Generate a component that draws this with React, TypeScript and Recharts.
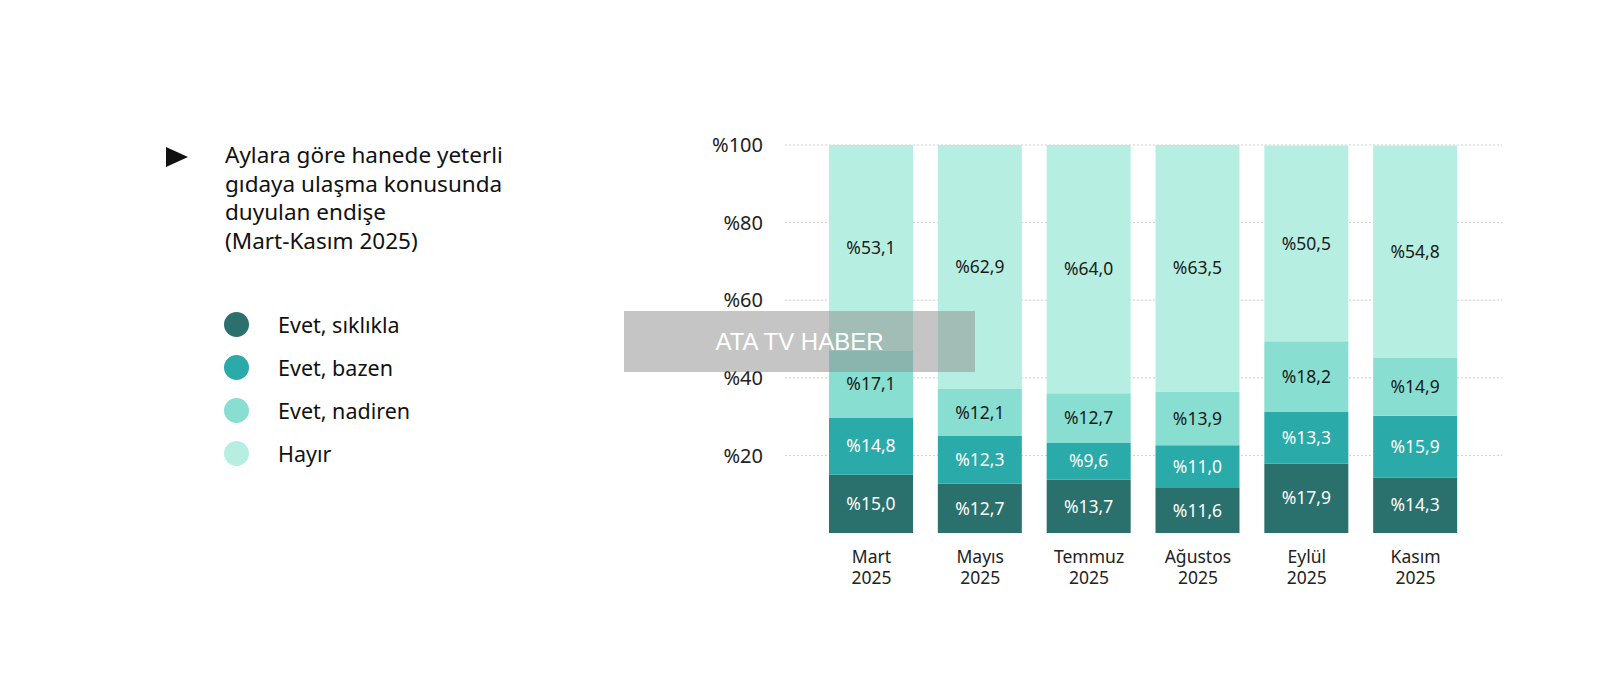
import { Bar, BarChart, CartesianGrid, LabelList, XAxis, YAxis } from 'recharts';

const months = ["Mart", "Mayıs", "Temmuz", "Ağustos", "Eylül", "Kasım"];
const yearLabel = "2025";

const siklikla = [15.0, 12.7, 13.7, 11.6, 17.9, 14.3];
const bazen = [14.8, 12.3, 9.6, 11.0, 13.3, 15.9];
const nadiren = [17.1, 12.1, 12.7, 13.9, 18.2, 14.9];
const hayir = [53.1, 62.9, 64.0, 63.5, 50.5, 54.8];

const yTicks = [20, 40, 60, 80, 100];

const titleLines = [
  "Aylara göre hanede yeterli",
  "gıdaya ulaşma konusunda",
  "duyulan endişe",
  "(Mart-Kasım 2025)",
];

const series = [
  { key: "siklikla", name: "Evet, sıklıkla", color: "#2a706c", text: "#ffffff" },
  { key: "bazen", name: "Evet, bazen", color: "#2aaaa9", text: "#ffffff" },
  { key: "nadiren", name: "Evet, nadiren", color: "#88dfd1", text: "#1a1a1a" },
  { key: "hayir", name: "Hayır", color: "#b6efe1", text: "#1a1a1a" },
];

const data = months.map((m, i) => ({
  month: m,
  siklikla: siklikla[i],
  bazen: bazen[i],
  nadiren: nadiren[i],
  hayir: hayir[i],
}));

const FONT = "'Noto Sans', Lato, sans-serif";

const fmt = (v: any) => "%" + Number(v).toFixed(1).replace(".", ",");

const MonthTick = (props: any) => {
  const { x, y, payload } = props;
  return (
    <g>
      <text x={x} y={y + 30} textAnchor="middle" fill="#222" fontSize={17.5} fontFamily={FONT}>
        {payload.value}
      </text>
      <text x={x} y={y + 51} textAnchor="middle" fill="#222" fontSize={17.5} fontFamily={FONT}>
        {yearLabel}
      </text>
    </g>
  );
};

export default function App() {
  return (
    <div style={{ position: "absolute", left: 0, top: 0, width: 1600, height: 685, background: "#fff", fontFamily: FONT }}>
      {/* title */}
      <svg style={{ position: "absolute", left: 166, top: 147 }} width={26} height={22}>
        <polygon points="0,0 22,10 0,20" fill="#111" />
      </svg>
      <div style={{ position: "absolute", left: 225, top: 141, fontSize: 22.5, lineHeight: "28.5px", color: "#111" }}>
        {titleLines.map((l) => (
          <div key={l}>{l}</div>
        ))}
      </div>

      {/* legend */}
      {series.map((s, i) => (
        <div key={s.key} style={{ position: "absolute", left: 224, top: 311 + i * 43, height: 26, display: "flex", alignItems: "center" }}>
          <div style={{ width: 25, height: 25, borderRadius: "50%", background: s.color }} />
          <div style={{ marginLeft: 29, fontSize: 21.5, color: "#111" }}>{s.name}</div>
        </div>
      ))}

      <div style={{ position: "absolute", left: 0, top: 0 }}>
        <BarChart
          width={1600}
          height={685}
          data={data}
          margin={{ top: 145, right: 98, bottom: 102, left: 705 }}
          barSize={84}
        >
          <CartesianGrid vertical={false} horizontalValues={yTicks} stroke="#cfcfcf" strokeDasharray="2 2" />
          <XAxis
            dataKey="month"
            axisLine={false}
            tickLine={false}
            tickSize={0}
            tickMargin={0}
            height={50}
            interval={0}
            padding={{ left: 32, right: 32 }}
            tick={<MonthTick />}
          />
          <YAxis
            width={80}
            domain={[0, 100]}
            ticks={yTicks}
            axisLine={false}
            tickLine={false}
            tickSize={0}
            tickMargin={22}
            tickFormatter={(v: number) => "%" + v}
            tick={{ fill: "#222", fontSize: 20, fontFamily: FONT }}
          />
          {series.map((s) => (
            <Bar key={s.key} dataKey={s.key} name={s.name} stackId="a" fill={s.color} isAnimationActive={false}>
              <LabelList
                dataKey={s.key}
                position="center"
                formatter={fmt}
                fill={s.text}
                fontSize={17.5}
                fontFamily={FONT}
              />
            </Bar>
          ))}
        </BarChart>
      </div>

      {/* watermark */}
      <div
        style={{
          position: "absolute",
          left: 624,
          top: 311,
          width: 351,
          height: 61,
          background: "rgba(140,140,140,0.5)",
          color: "#fff",
          fontFamily: "'Liberation Sans', Arial, sans-serif",
          fontSize: 24,
          display: "flex",
          alignItems: "center",
          justifyContent: "center",
        }}
      >
        ATA TV HABER
      </div>
    </div>
  );
}
